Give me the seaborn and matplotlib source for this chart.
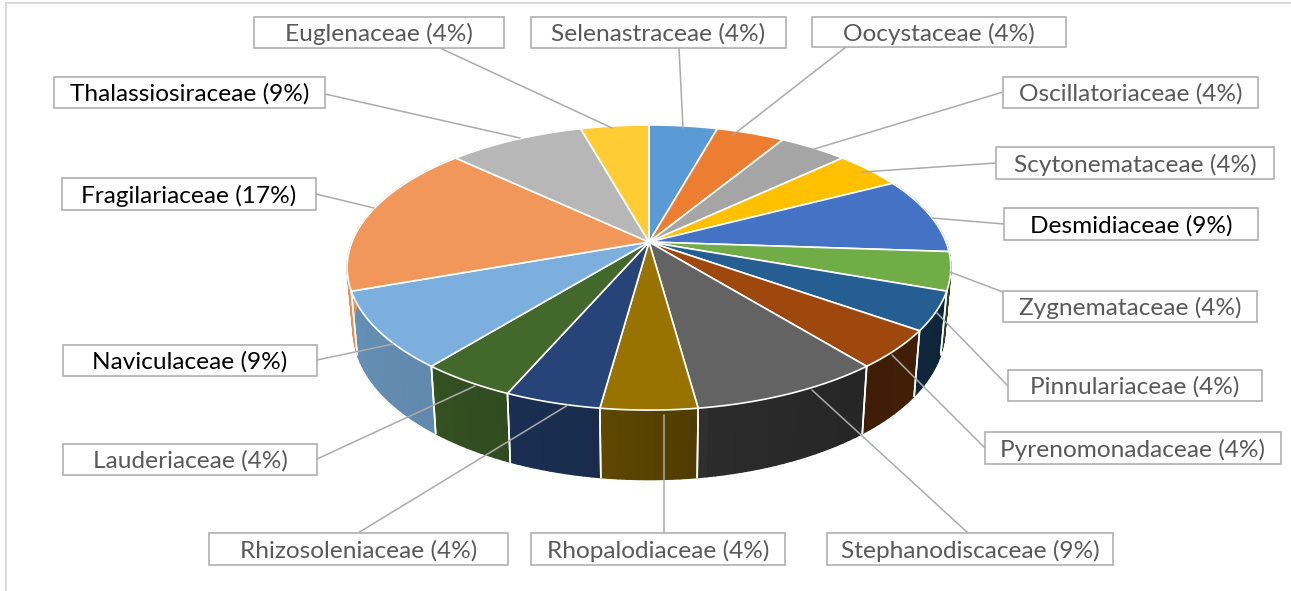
#%% imports
import numpy as np
import matplotlib
matplotlib.use("Agg")
import matplotlib.pyplot as plt
import seaborn as sns
from matplotlib.patches import Rectangle
from matplotlib.path import Path
from matplotlib.transforms import Affine2D, Transform

#%% data, clockwise from 12 o'clock
families = ["Selenastraceae", "Oocystaceae", "Oscillatoriaceae", "Scytonemataceae",
            "Desmidiaceae", "Zygnemataceae", "Pinnulariaceae", "Pyrenomonadaceae",
            "Stephanodiscaceae", "Rhopalodiaceae", "Rhizosoleniaceae", "Lauderiaceae",
            "Naviculaceae", "Fragilariaceae", "Thalassiosiraceae", "Euglenaceae"]
counts = [1, 1, 1, 1, 2, 1, 1, 1, 2, 1, 1, 1, 2, 4, 2, 1]
slice_colors = ["#5B9BD5", "#ED7D31", "#A5A5A5", "#FFC000", "#4472C4", "#70AD47",
                "#255E91", "#9E480E", "#636363", "#997300", "#264478", "#43682B",
                "#7CAFDD", "#F1975A", "#B7B7B7", "#FFCD33"]
black_labels = ["Desmidiaceae", "Naviculaceae", "Fragilariaceae", "Thalassiosiraceae"]

# label boxes (left, right, top, bottom) and leader ends, in pixels
boxes = [(531, 786, 17, 48), (812, 1066, 17, 47), (1003, 1258, 77, 108), (996, 1274, 147, 179),
         (1004, 1258, 208, 240), (1003, 1257, 291, 322), (1008, 1262, 370, 401), (985, 1281, 432, 464),
         (827, 1113, 533, 565), (531, 785, 533, 565), (209, 508, 533, 565), (63, 317, 444, 475),
         (63, 317, 345, 376), (62, 316, 178, 210), (54, 325, 77, 108), (254, 504, 17, 48)]
leaders = [((679, 48), (683, 128)), ((846, 47), (733, 135)), ((1003, 92), (811, 150)), ((996, 163), (862, 172)),
           ((1004, 224), (932, 218)), ((1003, 292), (950, 272)), ((1008, 386), (937, 313)), ((985, 448), (892, 355)),
           ((968, 533), (812, 390)), ((664, 533), (664, 415)), ((358, 533), (568, 405)), ((317, 459), (475, 386)),
           ((317, 360), (393, 344)), ((316, 194), (374, 208)), ((325, 94), (520, 138)), ((440, 48), (612, 128))]

#%% perspective of the tilted disc
KEEL = 0.179


def top_face(u, v):
    d = 1 + KEEL * v
    return 649 + 297 * u / d, 242 - 138 * v / d


def bottom_face(u, v):
    d = 1 + KEEL * v
    return 649 + 0.98 * 297 * u / d, 303 - 145 * v / d


class TopFace(Transform):
    input_dims = output_dims = 2
    is_affine = False

    def transform_non_affine(self, values):
        x, y = top_face(values[:, 0], values[:, 1])
        return np.column_stack([x, y])

    def transform_path_non_affine(self, path):
        poly = path.to_polygons(Affine2D().scale(4000), closed_only=True)[0] / 4000
        return Path(self.transform_non_affine(poly), closed=True)


#%% plot
sns.set_style("white")
plt.rcParams["font.family"] = ["Lato", "DejaVu Sans"]
palette = sns.color_palette(slice_colors)

fig = plt.figure(figsize=(12.91, 5.91), dpi=100)
ax = fig.add_axes([0, 0, 1, 1])

wedges, _ = ax.pie(counts, colors=palette, startangle=90, counterclock=False,
                   wedgeprops={"edgecolor": "white", "linewidth": 1.2})
persp = TopFace()
for w in wedges:
    w.set_transform(persp + ax.transData)
    w.set_zorder(3)

ax.set_aspect("auto")
ax.set_xlim(0, 1291)
ax.set_ylim(591, 0)
ax.axis("off")

# side wall, shaded darker towards the right
shade_at = [110, 125, 141, 142, 171, 172, 188, 189, 203, 204, 219, 250, 251, 270]
shade_val = [.38, .42, .40, .38, .44, .52, .62, .65, .68, .72, .78, .82, .95, .95]
edges = np.cumsum([0] + counts) / sum(counts) * 360
for i, col in enumerate(palette):
    a0, a1 = edges[i], edges[i + 1]
    if a1 < 80 or a0 > 275:
        continue
    steps = np.linspace(a0, a1, int((a1 - a0) / 1.5) + 2)
    for t0, t1 in zip(steps[:-1], steps[1:]):
        t = np.radians([t0, t1])
        xt, yt = top_face(np.sin(t), np.cos(t))
        xb, yb = bottom_face(np.sin(t), np.cos(t))
        s = np.interp((t0 + t1) / 2, shade_at, shade_val)
        c = tuple(np.array(col) * s)
        ax.fill([xt[0], xt[1], xb[1], xb[0]], [yt[0], yt[1], yb[1], yb[0]],
                color=c, lw=1.0, zorder=1)
    for a in (a0, a1):
        t = np.radians(a)
        if 105 < a < 255:
            xt, yt = top_face(np.sin(t), np.cos(t))
            xb, yb = bottom_face(np.sin(t), np.cos(t))
            ax.plot([xt, xb], [yt, yb], color="white", lw=1.2, zorder=2)

# leaders and label boxes
total = sum(counts)
for name, n, box, (p0, p1) in zip(families, counts, boxes, leaders):
    ax.plot([p0[0], p1[0]], [p0[1], p1[1]], color="#ABABAB", lw=1.1, zorder=4)
    left, right, top, bottom = box
    ax.add_patch(Rectangle((left, top), right - left, bottom - top, facecolor="white",
                           edgecolor="#B0B0B0", lw=1.2, zorder=5))
    txt_col = "black" if name in black_labels else "#595959"
    ax.text((left + right) / 2, (top + bottom) / 2 + 1.5, f"{name} ({round(n / total * 100)}%)",
            color=txt_col, fontsize=17.6, ha="center", va="center", zorder=6)

# chart frame, cropped at right and bottom
ax.plot([6, 6], [591, 3], color="#D9D9D9", lw=1.4, zorder=0)
ax.plot([6, 1291], [3, 3], color="#D9D9D9", lw=1.4, zorder=0)

fig.savefig("out.png", dpi=100, facecolor="white")
